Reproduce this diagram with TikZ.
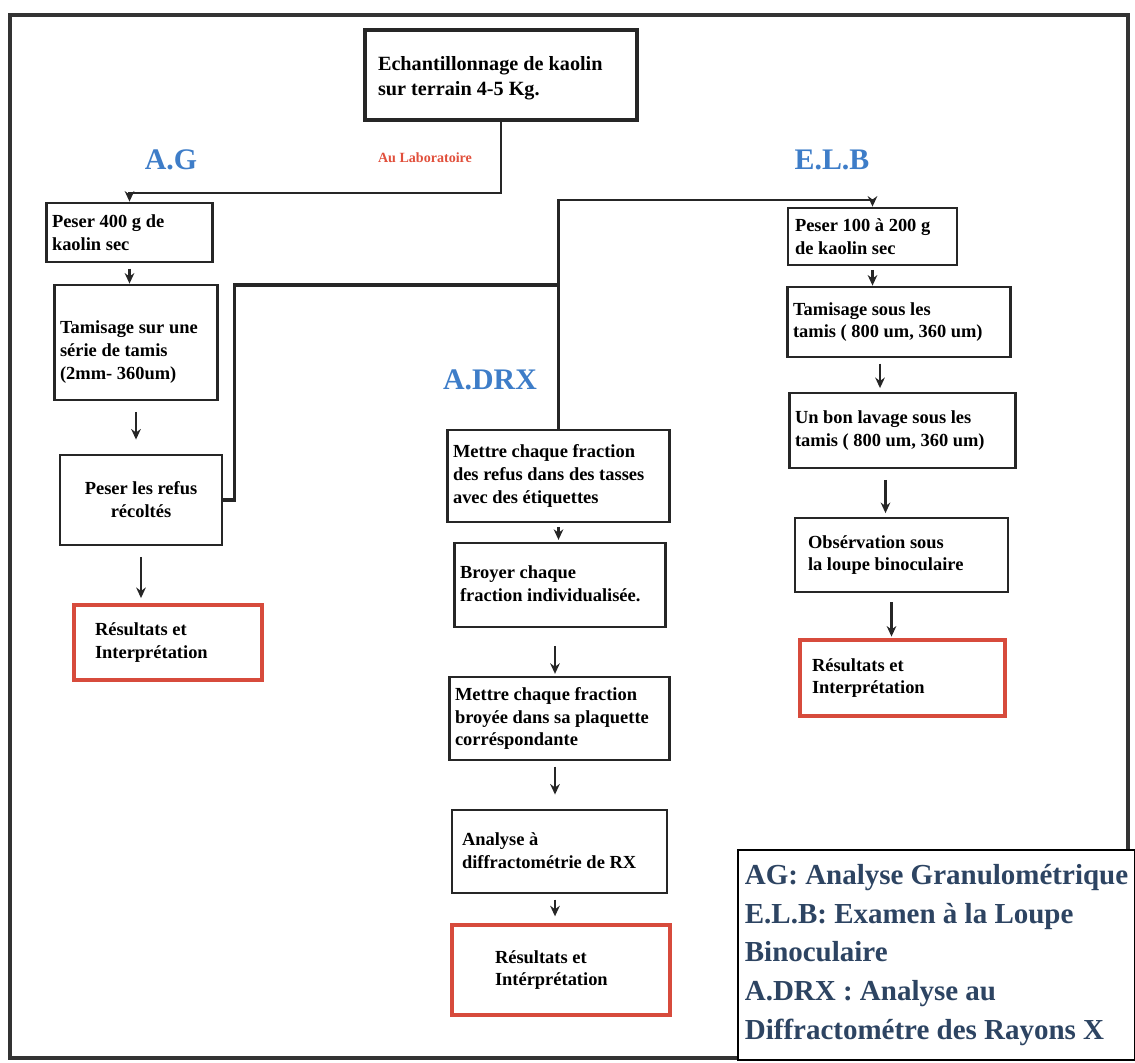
\documentclass[tikz,border=0pt]{standalone}
\usepackage{fontspec}
\setmainfont{Liberation Serif}
\usetikzlibrary{arrows.meta}
\definecolor{labelblue}{RGB}{62,125,200}
\definecolor{labred}{RGB}{225,80,60}
\definecolor{resred}{RGB}{215,75,60}
\definecolor{legendink}{RGB}{45,68,98}
\tikzset{
  box/.style={draw=black!85, line width=1.6pt, fill=white, align=flush left, inner sep=3pt,
    font=\bfseries\fontsize{10.5}{13}\selectfont},
  resbox/.style={box, draw=resred, line width=1.9pt},
  flow/.style={-{Stealth[length=6pt,width=5.5pt]}, line width=1.6pt, black!85},
  link/.style={line width=1.8pt, black!85},
  branch/.style={text=labelblue, font=\bfseries\fontsize{17}{20}\selectfont},
}
\begin{document}
\begin{tikzpicture}[x=0.02cm, y=-0.02cm]
      \useasboundingbox (0,0) rectangle (1135,1062);
      \draw [line width=2pt, black!80] (10,15) rectangle (1128,1058);
      \node [box, line width=2.6pt, minimum width=5.44cm, minimum height=1.8cm, text width=4.92cm, text depth=0.45cm,
        font=\bfseries\fontsize{11.5}{14}\selectfont] (ech) at (501,75)
        {Echantillonnage de kaolin\\sur terrain 4-5 Kg.};
      \node [branch] (lag) at (171,160) {A.G};
      \node [text=labred, font=\bfseries\fontsize{8}{10}\selectfont] (lab) at (425,158) {Au Laboratoire};
      \node [branch] (lelb) at (832,160) {E.L.B};
      \node [branch] (ldrx) at (490,380) {A.DRX};
      % A.G
      \node [box, minimum width=3.3cm, minimum height=1.18cm, text width=3.1cm] (ag1) at (129.5,232.5) {Peser 400 g de\\kaolin sec};
      \node [box, minimum width=3.16cm, minimum height=2.3cm, text width=3.04cm, text depth=0.6cm] (ag2) at (136,342.5) {Tamisage sur une\\série de tamis\\(2mm- 360um)};
      \node [box, minimum width=3.24cm, minimum height=1.8cm, align=center] (ag3) at (141,500) {Peser les refus\\récoltés};
      \node [resbox, minimum width=3.76cm, minimum height=1.5cm, text width=2.92cm] (ag4) at (168,642.5) {Résultats et\\Interprétation};
      % E.L.B
      \node [box, minimum width=3.38cm, minimum height=1.14cm, text width=3.1cm] (elb1) at (872.5,236.5) {Peser 100 à 200 g\\de kaolin sec};
      \node [box, minimum width=4.36cm, minimum height=1.4cm, text width=4.24cm] (elb2) at (899,322) {Tamisage sous les\\tamis ( 800 um, 360 um)};
      \node [box, minimum width=4.38cm, minimum height=1.5cm, text width=4.3cm] (elb3) at (902.5,430.5) {Un bon lavage sous les\\tamis ( 800 um, 360 um)};
      \node [box, minimum width=4.26cm, minimum height=1.48cm, text width=3.74cm] (elb4) at (901.5,555) {Obsérvation sous\\la loupe binoculaire};
      \node [resbox, minimum width=4.1cm, minimum height=1.52cm, text width=3.62cm] (elb5) at (902.5,678) {Résultats et\\Interprétation};
      % A.DRX
      \node [box, minimum width=4.34cm, minimum height=1.84cm, text width=4.22cm] (drx1) at (558.5,476) {Mettre chaque fraction\\des refus dans des tasses\\avec des étiquettes};
      \node [box, minimum width=4.2cm, minimum height=1.68cm, text width=4.0cm, text depth=0.5cm] (drx2) at (560,585) {Broyer chaque\\fraction individualisée.};
      \node [box, minimum width=4.3cm, minimum height=1.66cm, text width=4.18cm] (drx3) at (559.5,718.5) {Mettre chaque fraction\\broyée dans sa plaquette\\corréspondante};
      \node [box, minimum width=4.3cm, minimum height=1.66cm, text width=3.9cm, text depth=0.5cm] (drx4) at (559.5,851.5) {Analyse à\\diffractométrie de RX};
      \node [resbox, minimum width=4.36cm, minimum height=1.8cm, text width=2.64cm] (drx5) at (561,970) {Résultats et\\Intérprétation};
      \node [draw=black, line width=1.6pt, fill=white, align=left, text=legendink,
        minimum width=7.94cm, minimum height=4.2cm,
        font=\bfseries\fontsize{16.5}{22}\selectfont] (legend) at (936.5,955)
        {AG: Analyse Granulométrique\\E.L.B: Examen à la Loupe\\Binoculaire\\A.DRX : Analyse au\\Diffractométre des Rayons X};
      \draw [flow] (ech.south) |- (ag1.north |- 0,193) -- (ag1.north);
      \draw [flow, shorten <=3pt] (ag1.south) -- (ag1.south |- ag2.north);
      \draw [flow, shorten <=6pt, shorten >=8pt] (ag2.south) -- (ag2.south |- ag3.north);
      \draw [flow, shorten <=6pt, shorten >=3pt] (ag3.south) -- (ag3.south |- ag4.north);
      \draw [link] (ag3.east) -- ++(11,0) |- (drx1.north |- 0,285);
      \draw [flow] (drx1.north) |- (elb1.north |- 0,200) -- (elb1.north);
      \draw [flow, shorten <=2pt] (elb1.south) -- (elb1.south |- elb2.north);
      \draw [flow, shorten <=3pt, shorten >=2pt] ([xshift=-0.38cm]elb2.south) -- ([xshift=-0.38cm]elb2.south |- elb3.north);
      \draw [flow, shorten <=6pt, shorten >=2pt] ([xshift=-0.34cm]elb3.south) -- ([xshift=-0.34cm]elb3.south |- elb4.north);
      \draw [flow, shorten <=5pt, shorten >=1pt] ([xshift=-0.2cm]elb4.south) -- ([xshift=-0.2cm]elb4.south |- elb5.north);
      \draw [flow, shorten <=2pt, shorten >=1pt] (drx1.south) -- (drx1.south |- drx2.north);
      \draw [flow, shorten <=10pt, shorten >=1pt] ([xshift=-0.1cm]drx2.south) -- ([xshift=-0.1cm]drx2.south |- drx3.north);
      \draw [flow, shorten <=3pt, shorten >=8pt] ([xshift=-0.09cm]drx3.south) -- ([xshift=-0.09cm]drx3.south |- drx4.north);
      \draw [flow, shorten <=3pt, shorten >=4pt] ([xshift=-0.09cm]drx4.south) -- ([xshift=-0.09cm]drx4.south |- drx5.north);
\end{tikzpicture}
\end{document}
